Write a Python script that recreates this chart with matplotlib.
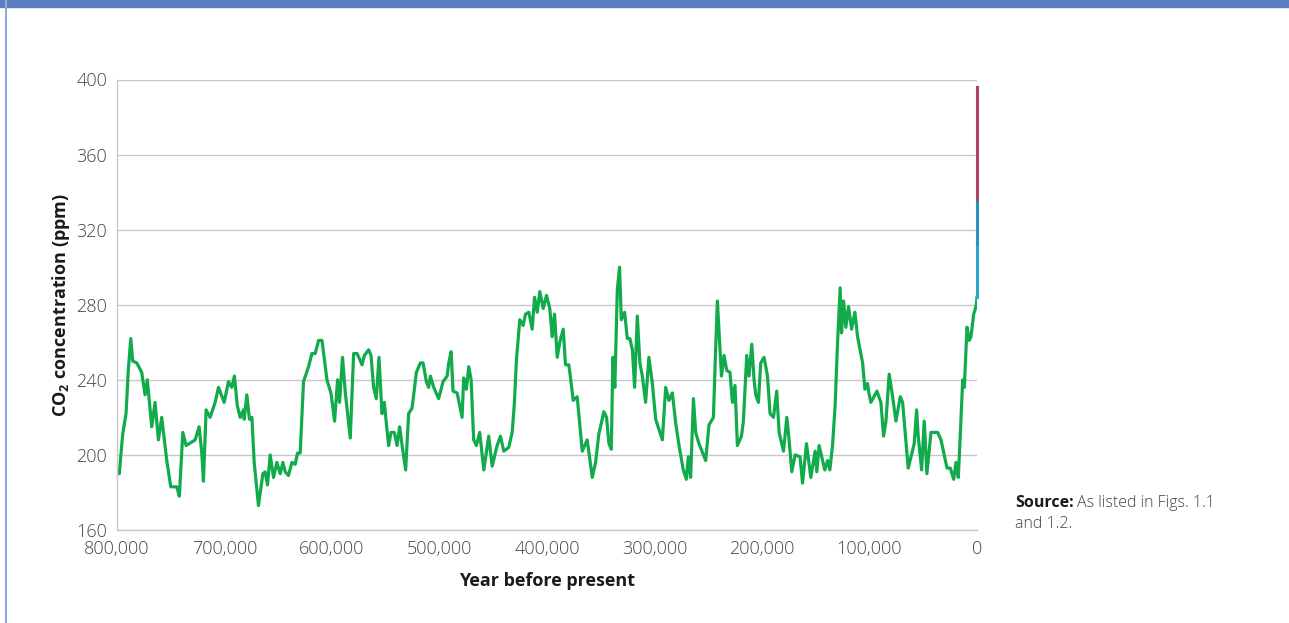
import numpy as np
import matplotlib.pyplot as plt
from matplotlib.patches import Rectangle
from matplotlib.lines import Line2D

plt.rcParams['font.family'] = ['Open Sans', 'DejaVu Sans']
plt.rcParams['mathtext.fontset'] = 'custom'
plt.rcParams['mathtext.rm'] = 'Open Sans'
plt.rcParams['mathtext.bf'] = 'Open Sans:bold'

# ice-core record, thousand years before present
kyr_bp = [800.0, 797.9, 794.7, 791.6, 789.5, 787.2, 785.4, 781.6, 777.0, 773.9,
          771.8, 767.7, 764.6, 761.5, 758.4, 753.7, 750.0, 744.4, 742.0, 738.8,
          735.7, 727.3, 723.6, 721.1, 719.6, 717.1, 713.4, 708.7, 705.6, 700.3,
          696.3, 693.2, 690.8, 688.0, 685.4, 682.4, 681.7, 679.2, 676.8, 674.5,
          672.4, 668.4, 664.3, 662.2, 660.0, 657.5, 654.4, 651.3, 648.2, 645.7,
          643.5, 640.5, 637.3, 634.2, 632.1, 629.6, 626.5, 621.8, 618.7, 615.6,
          612.5, 609.3, 604.7, 601.0, 597.6, 594.8, 593.0, 590.2, 587.6, 583.0,
          579.9, 576.7, 574.3, 572.1, 569.9, 565.9, 563.7, 561.3, 558.8, 556.3,
          553.5, 551.3, 549.5, 547.3, 545.1, 542.0, 539.5, 537.1, 534.8, 531.5,
          528.7, 525.5, 521.5, 517.8, 515.3, 512.2, 510.1, 508.5, 505.4, 500.8,
          496.7, 492.9, 491.4, 489.2, 487.4, 483.6, 479.0, 477.5, 475.0, 472.8,
          470.6, 468.2, 465.7, 462.6, 458.8, 454.2, 451.0, 446.4, 443.3, 440.2,
          435.6, 432.4, 430.3, 428.4, 425.3, 422.2, 420.0, 416.9, 413.8, 411.6,
          409.1, 406.7, 403.5, 400.5, 397.4, 395.2, 393.0, 390.5, 388.1, 384.9,
          382.8, 379.7, 378.1, 375.6, 371.9, 367.2, 362.6, 357.9, 354.8, 351.8,
          347.1, 344.6, 342.4, 340.2, 338.7, 336.9, 334.6, 332.5, 330.9, 327.8,
          325.3, 322.9, 320.6, 318.5, 316.0, 313.6, 311.3, 308.3, 305.2, 302.0,
          298.9, 292.7, 289.6, 286.6, 283.4, 280.3, 277.2, 273.2, 270.4, 268.5,
          266.4, 263.8, 261.7, 258.6, 252.4, 249.3, 245.2, 243.5, 241.5, 237.7,
          235.3, 232.8, 229.8, 227.5, 225.1, 222.9, 219.1, 217.3, 214.2, 212.1,
          209.5, 207.4, 205.8, 203.3, 201.2, 198.1, 194.9, 192.5, 189.3, 186.3,
          184.1, 180.0, 176.9, 174.8, 172.3, 169.2, 164.6, 162.3, 158.6, 154.6,
          150.6, 149.0, 146.9, 141.6, 139.0, 136.9, 134.4, 132.0, 129.7, 127.3,
          126.0, 124.1, 122.0, 119.5, 116.7, 113.6, 111.1, 106.4, 104.3, 101.8,
          100.3, 98.7, 93.1, 89.4, 86.9, 84.7, 81.7, 78.5, 75.4, 71.4,
          69.2, 64.0, 58.4, 56.2, 54.7, 51.5, 49.1, 46.6, 42.8, 36.6,
          33.5, 27.9, 24.9, 21.7, 19.6, 17.4, 15.6, 13.3, 11.8, 9.3,
          7.2, 5.6, 3.1, 0.9, 0.0]
co2_ice = [192, 190, 211, 222, 245, 262, 250, 249, 244, 232,
           240, 215, 228, 208, 220, 197, 183, 183, 178, 212,
           205, 208, 215, 201, 186, 224, 220, 228, 236, 228,
           239, 236, 242, 226, 220, 224, 219, 232, 219, 220,
           196, 173, 190, 191, 184, 200, 188, 196, 190, 196,
           191, 189, 196, 195, 201, 201, 239, 247, 254, 254,
           261, 261, 240, 233, 218, 240, 228, 252, 233, 209,
           254, 254, 251, 248, 253, 256, 253, 236, 230, 252,
           222, 228, 217, 205, 212, 212, 205, 215, 205, 192,
           222, 225, 244, 249, 249, 239, 236, 242, 236, 230,
           239, 242, 249, 255, 234, 233, 220, 241, 235, 247,
           240, 208, 205, 212, 192, 210, 194, 205, 210, 202,
           204, 212, 228, 251, 272, 269, 275, 276, 267, 284,
           276, 287, 278, 285, 278, 263, 275, 252, 260, 267,
           248, 248, 241, 229, 231, 202, 208, 188, 196, 211,
           223, 220, 206, 203, 252, 236, 288, 300, 272, 276,
           262, 262, 256, 236, 274, 249, 242, 228, 252, 238,
           219, 208, 236, 229, 233, 217, 205, 192, 187, 199,
           188, 230, 212, 206, 197, 216, 220, 250, 282, 242,
           253, 245, 244, 228, 237, 205, 210, 218, 253, 242,
           259, 240, 232, 228, 249, 252, 242, 222, 220, 234,
           212, 202, 220, 208, 191, 200, 199, 185, 206, 188,
           202, 191, 205, 192, 197, 192, 205, 226, 260, 289,
           265, 282, 268, 279, 267, 276, 263, 249, 235, 238,
           232, 228, 234, 228, 210, 218, 243, 231, 218, 231,
           228, 193, 206, 224, 210, 192, 218, 190, 212, 212,
           208, 193, 193, 187, 196, 188, 210, 240, 236, 268,
           261, 263, 275, 279, 284]

# recent record (years before present)
early_years = [0, 0]
early_co2 = [284, 313]
mid_years = [0, 0]
mid_co2 = [313, 336.5]
modern_years = [0, 0]
modern_co2 = [336.5, 396]

years = np.array(kyr_bp) * 1000

fig = plt.figure(figsize=(12.89, 6.23), dpi=100)
ax = fig.add_axes([117 / 1289, 1 - 530 / 623, 860 / 1289, 450.5 / 623])

ax.plot(years, co2_ice, color='#12ab4c', lw=2.3, solid_joinstyle='round')
ax.plot(early_years, early_co2, color='#27a9cc', lw=2.2, clip_on=False)
ax.plot(mid_years, mid_co2, color='#2a92b8', lw=2.2, clip_on=False)
ax.plot(modern_years, modern_co2, color='#ab4860', lw=2.2, clip_on=False)

ax.set_xlim(800000, 0)
ax.set_ylim(160, 400)
ax.set_yticks(np.arange(160, 401, 40))
ax.set_xticks(np.arange(0, 800001, 100000))
ax.set_xticklabels([f'{v:,}' for v in np.arange(0, 800001, 100000)])
ax.grid(axis='y', color='#c8c8c8', lw=1.0)
ax.set_axisbelow(True)
for s in ['top', 'right']:
    ax.spines[s].set_visible(False)
for s in ['left', 'bottom']:
    ax.spines[s].set_color('#c8c8c8')
    ax.spines[s].set_linewidth(1.0)
ax.tick_params(length=0, labelsize=13, labelcolor='#444444')
ax.tick_params(axis='y', pad=7)
ax.tick_params(axis='x', pad=7)
for lbl in ax.get_xticklabels() + ax.get_yticklabels():
    lbl.set_fontweight('light')

ax.set_ylabel(r'CO$_\mathbf{2}$ concentration (ppm)', fontsize=13,
              fontweight='bold', color='#1a1a1a', labelpad=3)
ax.set_xlabel('Year before present', fontsize=13, fontweight='bold',
              color='#1a1a1a', labelpad=10)

# source note
t1 = fig.text(1015 / 1289, 1 - 503 / 623, 'Source:', fontsize=11.5,
              fontweight='bold', color='#1a1a1a', va='center')
fig.canvas.draw()
bb = t1.get_window_extent()
fig.text(bb.x1 / 1289 + 3 / 1289, 1 - 503 / 623, 'As listed in Figs. 1.1',
         fontsize=11.5, color='#444444', va='center', fontweight='light')
fig.text(1015 / 1289, 1 - 524 / 623, 'and 1.2.', fontsize=11.5,
         color='#444444', va='center', fontweight='light')

# frame
fig.patches.append(Rectangle((0, 1 - 7 / 623), 1, 7 / 623,
                             transform=fig.transFigure, color='#5b7ec0'))
fig.lines.append(Line2D([6 / 1289, 6 / 1289], [0, 1], transform=fig.transFigure,
                        color='#8fa9da', lw=1.5))

fig.savefig('out.png', dpi=100)
